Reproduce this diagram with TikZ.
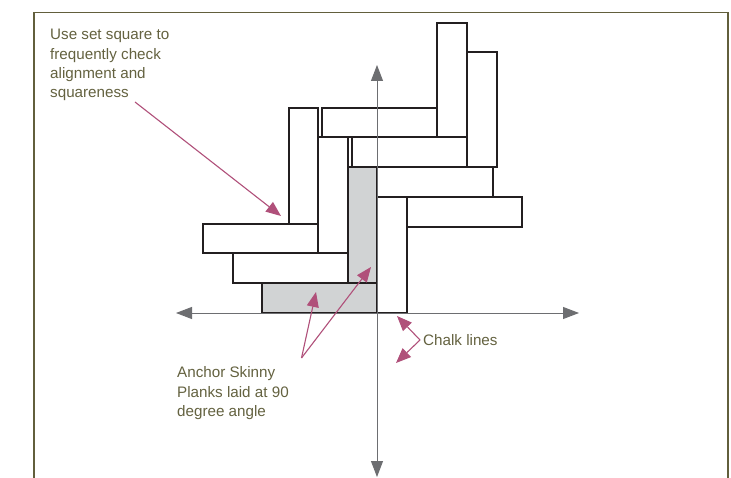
\documentclass[tikz,border=0pt]{standalone}
\usepackage{fontspec}
\setmainfont{Liberation Sans}
\usetikzlibrary{arrows.meta}
\definecolor{olive}{RGB}{98,95,60}
\definecolor{txt}{RGB}{100,98,64}
\definecolor{axisgray}{RGB}{109,110,113}
\definecolor{pink}{RGB}{176,80,122}
\definecolor{plankgray}{RGB}{209,211,212}
\definecolor{ink}{RGB}{35,31,32}
\tikzset{
  plank/.style={draw=ink, line width=1.2pt, fill=white},
  anchorplank/.style={draw=ink, line width=1.2pt, fill=plankgray},
  axisline/.style={draw=axisgray, line width=0.9pt, {Triangle[length=16pt,width=12pt]}-{Triangle[length=16pt,width=12pt]}},
  callout/.style={draw=pink, line width=1.1pt, -{Triangle[length=15pt,width=12pt]}},
  lbl/.style={text=txt, font=\fontsize{15.2}{19.4}\selectfont, inner sep=0pt, anchor=base west},
  frameline/.style={draw=olive, line width=1.8pt}
}
\begin{document}
\begin{tikzpicture}[x=1pt,y=-1pt]
\useasboundingbox (0,0) rectangle (731,478);
\fill[white] (0,0) rectangle (731,478);
% frame
\draw[frameline] (34,480) -- (34,12.5) -- (728,12.5) -- (728,480);
% planks
\draw[plank] (437,23) rectangle (467,137);
\draw[plank] (467,52) rectangle (497,167);
\draw[plank] (322,108) rectangle (437,137);
\draw[plank] (289,108) rectangle (318,224);
\draw[plank] (352,137) rectangle (467,167);
\draw[plank] (318,137) rectangle (348,253);
\draw[plank] (377,167) rectangle (493,197);
\draw[plank] (407,197) rectangle (522,227);
\draw[plank] (377,197) rectangle (407,313);
\draw[plank] (203,224) rectangle (318,253);
\draw[plank] (233,253) rectangle (348,283);
\draw[anchorplank] (348,167) rectangle (377,283);
\draw[anchorplank] (262,283) rectangle (377,313);
% axes
\coordinate (xl) at (176,313);
\coordinate (xr) at (579,313);
\coordinate (yt) at (377,65);
\coordinate (yb) at (377,477);
\draw[axisline] (xl) -- (xr);
\draw[axisline] (yt) -- (yb);
% labels
\node[lbl] (s1) at (50,40) {Use set square to};
\node[lbl] (s2) at (50,59.2) {frequently check};
\node[lbl] (s3) at (50,78.4) {alignment and};
\node[lbl] (s4) at (50,97.6) {squareness};
\node[lbl] (a1) at (177,377.5) {Anchor Skinny};
\node[lbl] (a2) at (177,397) {Planks laid at 90};
\node[lbl] (a3) at (177,416.5) {degree angle};
\node[lbl] (c1) at (423,345) {Chalk lines};
% callout points
\coordinate (sq0) at (135,102);
\coordinate (sq1) at (281,216);
\coordinate (an0) at (301.5,358);
\coordinate (an1) at (316,292);
\coordinate (an2) at (371,267);
\coordinate (ch0) at (420,340);
\coordinate (ch1) at (397,316);
\coordinate (ch2) at (396,363);
\draw[callout] (sq0) -- (sq1);
\draw[callout] (an0) -- (an1);
\draw[callout] (an0) -- (an2);
\draw[callout] (ch0) -- (ch1);
\draw[callout] (ch0) -- (ch2);
\end{tikzpicture}
\end{document}
